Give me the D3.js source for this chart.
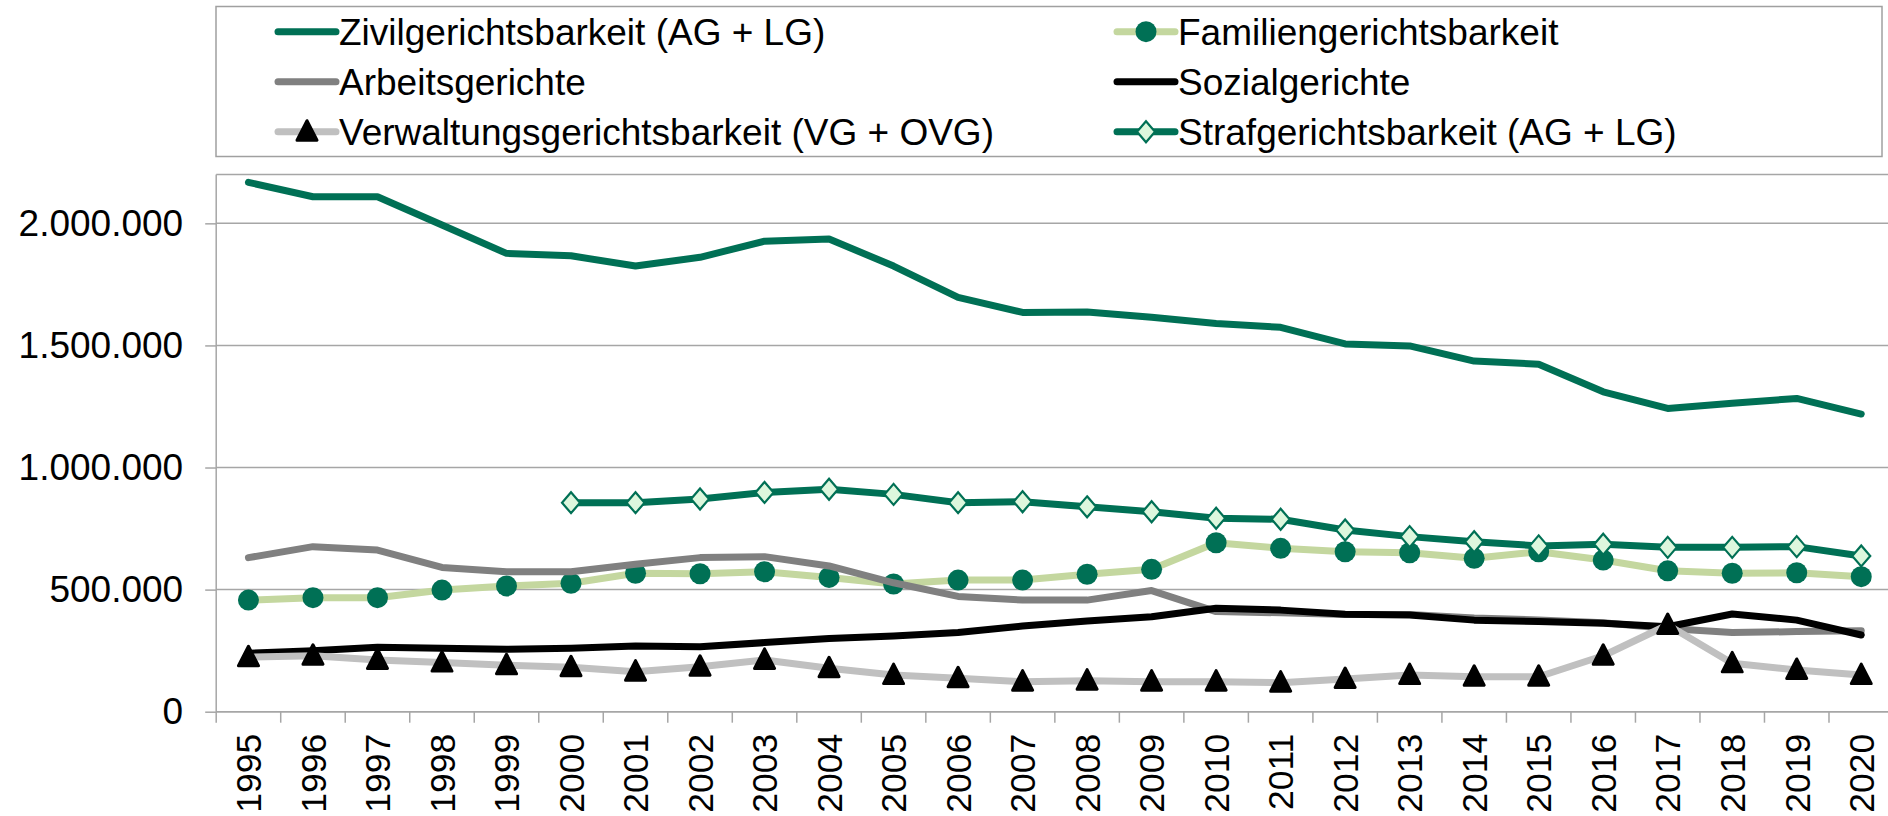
<!DOCTYPE html>
<html>
<head>
<meta charset="utf-8">
<script src="https://cdn.jsdelivr.net/npm/d3@7"></script>
<style>
  body { margin: 0; background: #fff; }
  svg text { font-family: "Liberation Sans", Arial, sans-serif; fill: #000; }
</style>
</head>
<body>
<div id="chart"></div>
<script>
// --- data ---
var years = [1995,1996,1997,1998,1999,2000,2001,2002,2003,2004,2005,2006,2007,
             2008,2009,2010,2011,2012,2013,2014,2015,2016,2017,2018,2019,2020];

var zivil = [2168000,2109000,2109000,1993000,1877000,1867000,1825000,1861000,1927000,1936000,
             1825000,1697000,1635000,1637000,1615000,1590000,1574000,1506000,1498000,1436000,
             1423000,1310000,1242000,1263000,1283000,1219000];
var familien = [457000,467000,467000,498000,515000,526000,567000,565000,573000,550000,
                523000,539000,539000,563000,583000,692000,669000,655000,651000,628000,
                655000,621000,577000,567000,569000,553000];
var arbeit = [631000,676000,662000,591000,573000,573000,604000,631000,635000,597000,
              528000,472000,457000,457000,496000,410000,405000,398000,398000,384000,
              376000,364000,341000,324000,328000,332000];
var sozial = [239000,250000,264000,260000,256000,260000,269000,266000,283000,300000,
              310000,324000,351000,371000,389000,424000,416000,399000,396000,375000,
              369000,362000,348000,400000,375000,314000];
var verwaltung = [223000,229000,212000,201000,190000,182000,164000,184000,212000,178000,
                  150000,137000,123000,127000,123000,123000,119000,134000,150000,143000,
                  143000,229000,355000,198000,171000,150000];
var straf = [null,null,null,null,null,856000,856000,871000,898000,911000,
             890000,856000,860000,839000,819000,792000,788000,744000,717000,696000,
             679000,686000,673000,673000,676000,638000];

var yTicks = [0,500000,1000000,1500000,2000000];
var yMax = 2200000;

var series = [
  {name:"Zivilgerichtsbarkeit (AG + LG)", values:zivil, color:"#007055", marker:null},
  {name:"Familiengerichtsbarkeit", values:familien, color:"#c4d79f", marker:"circle"},
  {name:"Arbeitsgerichte", values:arbeit, color:"#808080", marker:null},
  {name:"Sozialgerichte", values:sozial, color:"#000000", marker:null},
  {name:"Verwaltungsgerichtsbarkeit (VG + OVG)", values:verwaltung, color:"#c0c0c0", marker:"triangle"},
  {name:"Strafgerichtsbarkeit (AG + LG)", values:straf, color:"#007055", marker:"diamond"}
];

var w = 1888, h = 816;
var plotLeft = 216.2, plotRight = 1893.5, plotTop = 174.5, plotBottom = 711.7;

var svg = d3.select('#chart').append('svg')
            .attr('width', w)
            .attr('height', h);

var xscale = d3.scaleBand().domain(years).range([plotLeft, plotRight]).paddingInner(0).paddingOuter(0);
var yscale = d3.scaleLinear().domain([0, yMax]).range([plotBottom, plotTop]);

var de = d3.formatLocale({decimal:",", thousands:".", grouping:[3], currency:["","€"]});
var fmt = de.format(",.0f");

var gridColor = "#a6a6a6";

// gridlines (incl. top border at max)
svg.append('g').selectAll('line')
  .data(yTicks.concat([yMax]))
  .enter().append('line')
    .attr('x1', plotLeft).attr('x2', w)
    .attr('y1', d => yscale(d)).attr('y2', d => yscale(d))
    .attr('stroke', gridColor).attr('stroke-width', 1.5);

// y axis
var yaxis = d3.axisLeft(yscale).tickValues(yTicks).tickFormat(fmt).tickSize(11).tickPadding(22);
var gy = svg.append('g').attr('transform', 'translate(' + plotLeft + ',0)').call(yaxis);
gy.select('.domain').remove();
gy.selectAll('.tick line').attr('stroke', gridColor).attr('stroke-width', 1.5);
gy.selectAll('text').attr('font-size', 37).attr('font-family', '"Liberation Sans", Arial, sans-serif');
svg.append('line').attr('x1', plotLeft).attr('x2', plotLeft).attr('y1', plotTop).attr('y2', plotBottom)
   .attr('stroke', gridColor).attr('stroke-width', 1.5);

// x axis
var xaxis = d3.axisBottom(xscale).tickSize(0);
var gx = svg.append('g').attr('transform', 'translate(0,' + plotBottom + ')').call(xaxis);
gx.select('.domain').remove();
gx.selectAll('text')
  .attr('font-size', 35.5).attr('font-family', '"Liberation Sans", Arial, sans-serif')
  .attr('transform', 'rotate(-90)')
  .attr('text-anchor', 'end')
  .attr('x', -22).attr('y', 0).attr('dy', '0.36em');
svg.append('line').attr('x1', plotLeft).attr('x2', w).attr('y1', plotBottom).attr('y2', plotBottom)
   .attr('stroke', gridColor).attr('stroke-width', 1.5);
svg.append('g').selectAll('line')
  .data(years)
  .enter().append('line')
    .attr('x1', d => xscale(d)).attr('x2', d => xscale(d))
    .attr('y1', plotBottom).attr('y2', plotBottom + 11)
    .attr('stroke', gridColor).attr('stroke-width', 1.5);

// markers
function drawMarker(g, type) {
  if (type == "circle") {
    g.append('circle').attr('r', 10.5).attr('fill', '#007055');
  } else if (type == "triangle") {
    g.append('path').attr('d', 'M0,-11L10,8.5L-10,8.5Z')
      .attr('fill', '#000').attr('stroke', '#000').attr('stroke-width', 3).attr('stroke-linejoin', 'round');
  } else if (type == "diamond") {
    g.append('path').attr('d', 'M0,-10.5L9,0L0,10.5L-9,0Z')
      .attr('fill', '#ddf7dd').attr('stroke', '#007055').attr('stroke-width', 2.2);
  }
}

var line = d3.line()
  .defined(d => d != null)
  .x((d, i) => xscale(years[i]) + xscale.bandwidth() / 2)
  .y(d => yscale(d));

series.forEach(function(s) {
  var g = svg.append('g');
  g.append('path')
    .datum(s.values)
    .attr('d', line)
    .attr('fill', 'none')
    .attr('stroke', s.color)
    .attr('stroke-width', 7)
    .attr('stroke-linejoin', 'round')
    .attr('stroke-linecap', 'round');
  if (s.marker) {
    s.values.forEach(function(v, i) {
      if (v == null) return;
      var m = g.append('g').attr('transform', 'translate(' + (xscale(years[i]) + xscale.bandwidth() / 2) + ',' + yscale(v) + ')');
      drawMarker(m, s.marker);
    });
  }
});

// legend
var lg = svg.append('g');
lg.append('rect').attr('x', 216).attr('y', 6.5).attr('width', 1666).attr('height', 150)
  .attr('fill', '#fff').attr('stroke', '#a0a0a0').attr('stroke-width', 1.5);
var colX = [278, 1117], rowY = [31.7, 81.7, 131.7];
series.forEach(function(s, i) {
  var cx = colX[i % 2], cy = rowY[Math.floor(i / 2)];
  var item = lg.append('g');
  item.append('line').attr('x1', cx).attr('x2', cx + 58).attr('y1', cy).attr('y2', cy)
    .attr('stroke', s.color).attr('stroke-width', 7).attr('stroke-linecap', 'round');
  if (s.marker) {
    drawMarker(item.append('g').attr('transform', 'translate(' + (cx + 29) + ',' + cy + ')'), s.marker);
  }
  item.append('text').attr('x', cx + 61).attr('y', cy).attr('dy', '0.35em')
    .attr('font-size', 37).text(s.name);
});
</script>
</body>
</html>
